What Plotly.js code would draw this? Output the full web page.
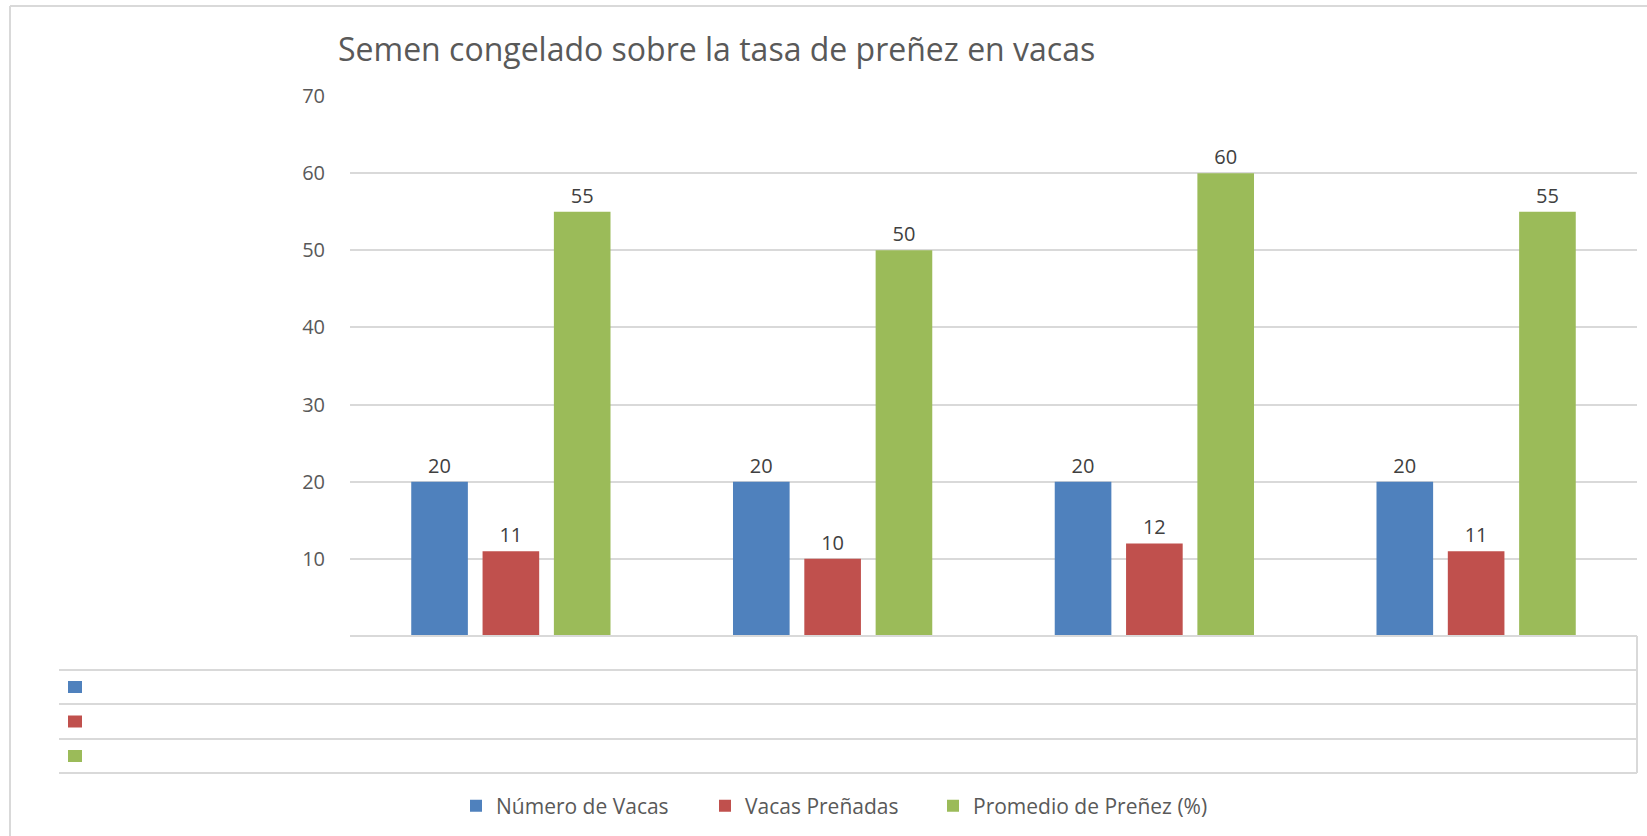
<!DOCTYPE html>
<html>
<head>
<meta charset="utf-8">
<script src="https://cdn.plot.ly/plotly-3.0.1.min.js"></script>
<style>
  html, body { margin: 0; padding: 0; background: #ffffff; }
  #chart { width: 1647px; height: 836px; }
</style>
</head>
<body>
<div id="chart"></div>
<script>
// ---- data ----
const categories = ['1', '2', '3', '4'];
const seriesNames = ['Número de Vacas', 'Vacas Preñadas', 'Promedio de Preñez (%)'];
const numeroVacas = [20, 20, 20, 20];
const vacasPrenadas = [11, 10, 12, 11];
const promedioPrenez = [55, 50, 60, 55];
const seriesColors = ['#4F81BD', '#C0504D', '#9BBB59'];
const yTickVals = [0, 10, 20, 30, 40, 50, 60, 70];
const yTickText = ['', '10', '20', '30', '40', '50', '60', '70'];
const titleText = 'Semen congelado sobre la tasa de preñez en vacas';

// ---- layout geometry (pixels) ----
const W = 1647, H = 836;
const PL = 350, PR = 1637, PT = 96, PB = 636;
const X = px => (px - PL) / (PR - PL);
const Y = py => (PB - py) / (PB - PT);
const FONT = 'Open Sans, Noto Sans, sans-serif';
const GRID = '#d9d9d9';
const legendWidths = [204, 183, null];

const seriesValues = [numeroVacas, vacasPrenadas, promedioPrenez];
const traces = seriesValues.map((vals, i) => {
  const t = {
    type: 'bar',
    name: seriesNames[i],
    x: categories,
    y: vals,
    marker: { color: seriesColors[i] },
    text: vals.map(String),
    textposition: 'outside',
    cliponaxis: false,
    textfont: { family: FONT, size: 20, color: '#404040' },
    hoverinfo: 'x+y+name'
  };
  if (legendWidths[i]) t.legendwidth = legendWidths[i];
  return t;
});

// data table lines and series keys
const shapes = [];
const line = (x0, y0, x1, y1, w) => ({
  type: 'line', xref: 'paper', yref: 'paper',
  x0: X(x0), y0: Y(y0), x1: X(x1), y1: Y(y1),
  line: { color: GRID, width: w || 2 }
});
shapes.push(line(350, 636, 1637, 636));
[670, 704, 739, 773].forEach(yy => shapes.push(line(59, yy, 1637, yy)));
shapes.push(line(1637, 636, 1637, 773));
// outer chart border (top / left)
shapes.push(line(10, 6, 1647, 6, 2));
shapes.push(line(10, 6, 10, 836, 2));
const rowCenters = [687, 721.5, 756];
seriesColors.forEach((c, i) => {
  shapes.push({
    type: 'rect', xref: 'paper', yref: 'paper',
    x0: X(68), x1: X(82), y0: Y(rowCenters[i] - 6), y1: Y(rowCenters[i] + 6),
    fillcolor: c, line: { width: 0 }
  });
});

const layout = {
  width: W, height: H,
  margin: { l: PL, r: W - PR, t: PT, b: H - PB, pad: 0 },
  paper_bgcolor: '#ffffff',
  plot_bgcolor: '#ffffff',
  font: { family: FONT, color: '#595959', size: 20 },
  title: {
    text: titleText,
    x: 338 / W, xanchor: 'left', xref: 'container',
    y: 1 - 50 / H, yanchor: 'middle', yref: 'container',
    font: { family: FONT, size: 32, color: '#595959' }
  },
  barmode: 'group',
  bargap: 0.335,
  bargroupgap: 0.206,
  xaxis: {
    type: 'category',
    showticklabels: false,
    showgrid: false,
    zeroline: false,
    showline: false,
    ticks: ''
  },
  yaxis: {
    range: [0, 70],
    tickmode: 'array',
    tickvals: yTickVals,
    ticktext: yTickText,
    showgrid: true,
    gridcolor: GRID,
    gridwidth: 2,
    zeroline: false,
    showline: false,
    ticks: '',
    ticklabelstandoff: 24,
    tickfont: { family: FONT, size: 20, color: '#595959' }
  },
  showlegend: true,
  legend: {
    orientation: 'h',
    xref: 'container', yref: 'container',
    x: 456 / W, xanchor: 'left',
    y: 1 - 806 / H, yanchor: 'middle',
    font: { family: FONT, size: 21, color: '#595959' },
    bgcolor: 'rgba(0,0,0,0)',
    itemclick: false, itemdoubleclick: false,
    traceorder: 'normal'
  },
  shapes: shapes
};

Plotly.newPlot('chart', traces, layout, { displayModeBar: false });
</script>
</body>
</html>
